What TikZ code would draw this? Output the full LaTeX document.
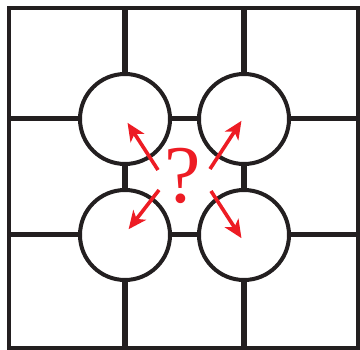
\documentclass[tikz,border=0pt]{standalone}
\usepackage{fontspec}
\newfontfamily\qfont{Liberation Serif}
\usetikzlibrary{arrows.meta}
\definecolor{qred}{RGB}{237,28,36}
\definecolor{ink}{RGB}{35,31,32}
\tikzset{
  frameline/.style={draw=ink, line width=4.5pt},
  vline/.style={draw=ink, line width=6pt},
  hline/.style={draw=ink, line width=5pt},
  hole/.style={circle, draw=ink, fill=white, line width=4pt, minimum size=90pt, inner sep=0pt},
  redarrow/.style={draw=qred, line width=3.6pt, -{Stealth[length=18pt, width=16pt, inset=5pt]}, shorten >=1pt},
}
\begin{document}
\begin{tikzpicture}[x=1pt, y=-1pt]
\useasboundingbox (0,0) rectangle (360,350);
% grid lines
\coordinate (v1t) at (125,8);  \coordinate (v1b) at (125,348);
\coordinate (v2t) at (244,8);  \coordinate (v2b) at (244,348);
\coordinate (h1l) at (9,119);  \coordinate (h1r) at (358,119);
\coordinate (h2l) at (9,235);  \coordinate (h2r) at (358,235);
\draw[vline] (v1t) -- (v1b);
\draw[vline] (v2t) -- (v2b);
\draw[hline] (h1l) -- (h1r);
\draw[hline] (h2l) -- (h2r);
\draw[frameline] (9,8) rectangle (358,348);
% circles
\node[hole] (tl) at (125,119) {};
\node[hole] (tr) at (244,119) {};
\node[hole] (bl) at (125,235) {};
\node[hole] (br) at (244,235) {};
% question mark
\node[text=qred, inner sep=0pt, font=\qfont\fontsize{82}{82}\selectfont] (q) at (183,176) {?};
% arrow starts
\coordinate (s1) at (158,170);
\coordinate (s2) at (210,169);
\coordinate (s3) at (159,190);
\coordinate (s4) at (211,191);
\draw[redarrow] (s1) -- ([shift={(2,3)}]tl.center);
\draw[redarrow] (s2) -- ([shift={(-2,1)}]tr.center);
\draw[redarrow] (s3) -- ([shift={(3,-5)}]bl.center);
\draw[redarrow] (s4) -- ([shift={(-2,4)}]br.center);
\end{tikzpicture}
\end{document}
